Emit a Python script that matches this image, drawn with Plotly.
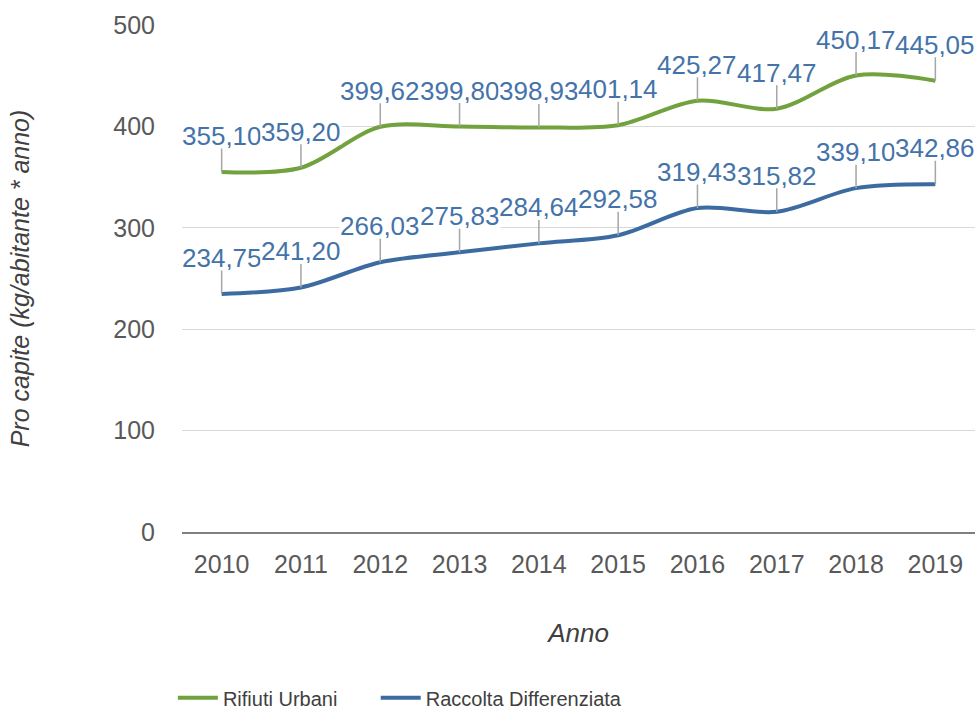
import plotly.graph_objects as go

years = ["2010", "2011", "2012", "2013", "2014", "2015", "2016", "2017", "2018", "2019"]
rifiuti_urbani = [355.10, 359.20, 399.62, 399.80, 398.93, 401.14, 425.27, 417.47, 450.17, 445.05]
raccolta_diff = [234.75, 241.20, 266.03, 275.83, 284.64, 292.58, 319.43, 315.82, 339.10, 342.86]
y_ticks = [0, 100, 200, 300, 400, 500]
series_names = ["Rifiuti Urbani", "Raccolta Differenziata"]

GREEN = "#71A23E"
BLUE = "#3C6BA1"
LABEL = "#4473AA"
FONT = "Liberation Sans, Arial, sans-serif"

idx = list(range(len(years)))

fig = go.Figure()
fig.add_trace(go.Scatter(x=idx, y=rifiuti_urbani, mode="lines",
                         name=series_names[0] + "\u00a0" * 6,
                         line=dict(color=GREEN, width=4, shape="spline", smoothing=0.9)))
fig.add_trace(go.Scatter(x=idx, y=raccolta_diff, mode="lines", name=series_names[1],
                         line=dict(color=BLUE, width=4, shape="spline", smoothing=0.9)))

def fmt(v):
    return f"{v:.2f}".replace(".", ",")

annotations = []
for series in (rifiuti_urbani, raccolta_diff):
    for i, v in zip(idx, series):
        annotations.append(dict(
            x=i, y=v, xref="x", yref="y", text=fmt(v), showarrow=True,
            arrowhead=0, arrowwidth=1.5, arrowcolor="#A6A6A6", ax=0, ay=-36,
            bgcolor="white", borderpad=0, standoff=0, height=24,
            font=dict(family=FONT, size=26, color=LABEL)))

fig.update_layout(
    width=977, height=717,
    paper_bgcolor="white", plot_bgcolor="white",
    margin=dict(l=182, r=2, t=25, b=185, autoexpand=False),
    font=dict(family=FONT, color="#595959"),
    annotations=annotations,
    showlegend=True,
    legend=dict(orientation="h", x=-0.0115, xanchor="left", y=-0.327, yanchor="middle",
                font=dict(family=FONT, size=20, color="#404040"),
                itemwidth=40, tracegroupgap=0),
    xaxis=dict(range=[-0.5, 9.5], tickvals=idx, ticktext=years, showgrid=False, zeroline=False,
               showline=True, linecolor="#7F7F7F", linewidth=1.5,
               ticks="", ticklabelstandoff=9, ticklabeloverflow="allow",
               tickfont=dict(family=FONT, size=25, color="#595959"),
               title=dict(text="<i>Anno</i>", font=dict(family=FONT, size=26, color="#404040"),
                          standoff=47)),
    yaxis=dict(range=[0, 500], tickvals=y_ticks, showgrid=True, gridcolor="#D9D9D9", gridwidth=1.2,
               zeroline=False, showline=False, ticks="", ticklabelstandoff=26,
               ticklabeloverflow="allow",
               tickfont=dict(family=FONT, size=25, color="#595959"),
               title=dict(text="<i>Pro capite (kg/abitante * anno)</i>",
                          font=dict(family=FONT, size=25, color="#404040"), standoff=76)),
)

fig.write_html("out.html", config={"displayModeBar": False},
               post_script="document.body.style.margin='0px';")
